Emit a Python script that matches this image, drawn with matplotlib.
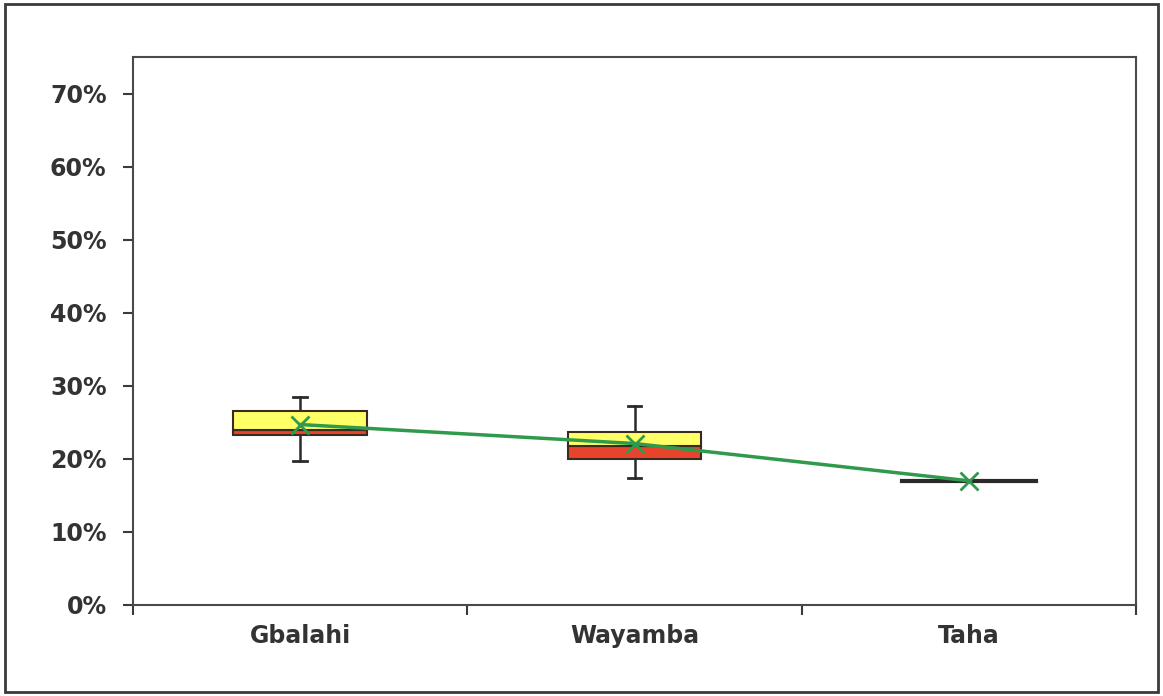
import numpy as np
import matplotlib
matplotlib.use("Agg")
import matplotlib.pyplot as plt
from matplotlib.patches import Rectangle
from matplotlib.ticker import PercentFormatter

regions = ["Gbalahi", "Wayamba", "Taha"]
q1 = [0.233, 0.200, 0.170]
median = [0.239, 0.218, 0.170]
q3 = [0.266, 0.237, 0.170]
wmin = [0.197, 0.174, 0.170]
wmax = [0.285, 0.273, 0.170]
mean = [0.247, 0.221, 0.170]

fig = plt.figure(figsize=(11.63, 6.96), dpi=100)
ax = fig.add_axes([133 / 1163, 1 - 605 / 696, 1003 / 1163, 548 / 696])

# outer frame around the whole chart
fig.patches.append(Rectangle((5 / 1163, 4 / 696), 1153 / 1163, 688 / 696,
                             transform=fig.transFigure, fill=False,
                             edgecolor="#3a3a3a", linewidth=2))

x = np.arange(len(regions))
w = 0.4
q1 = np.array(q1); median = np.array(median); q3 = np.array(q3)

ax.bar(x, median - q1, w, bottom=q1, color="#e8442c", edgecolor="#3a2a20", linewidth=1.5, zorder=2)
ax.bar(x, q3 - median, w, bottom=median, color="#ffff66", edgecolor="#3a2a20", linewidth=1.5, zorder=2)
# Taha collapses to a single line
for i in range(len(regions)):
    if q3[i] - q1[i] < 0.002:
        ax.plot([x[i] - w / 2, x[i] + w / 2], [median[i]] * 2, color="#2a2a2a", lw=3, zorder=3)
    else:
        ax.plot([x[i], x[i]], [q3[i], wmax[i]], color="#2a2a2a", lw=1.8, zorder=1)
        ax.plot([x[i], x[i]], [wmin[i], q1[i]], color="#2a2a2a", lw=1.8, zorder=1)
        for v in (wmin[i], wmax[i]):
            ax.plot([x[i] - 0.02, x[i] + 0.02], [v, v], color="#2a2a2a", lw=2, zorder=1)

ax.plot(x, mean, color="#2f9a4c", lw=2.5, marker="x", markersize=13, mew=2, zorder=4)

ax.set_xlim(-0.5, 2.5)
ax.set_ylim(0, 0.75)
ax.set_yticks(np.arange(0, 0.71, 0.1))
ax.yaxis.set_major_formatter(PercentFormatter(1.0, decimals=0))
ax.set_xticks(x)
ax.set_xticklabels(regions)
ax.set_xticks([-0.5, 0.5, 1.5, 2.5], minor=True)
ax.tick_params(axis="x", which="major", length=0, pad=14)
ax.tick_params(axis="x", which="minor", length=7, width=1.5, color="#3a3a3a")
ax.tick_params(axis="y", length=7, width=1.5, color="#3a3a3a", pad=12)
for lbl in ax.get_xticklabels() + ax.get_yticklabels():
    lbl.set_fontsize(17)
    lbl.set_fontweight("bold")
    lbl.set_color("#333333")
for s in ax.spines.values():
    s.set_color("#4a4a4a")
    s.set_linewidth(1.5)

fig.savefig("out.png", dpi=100)
